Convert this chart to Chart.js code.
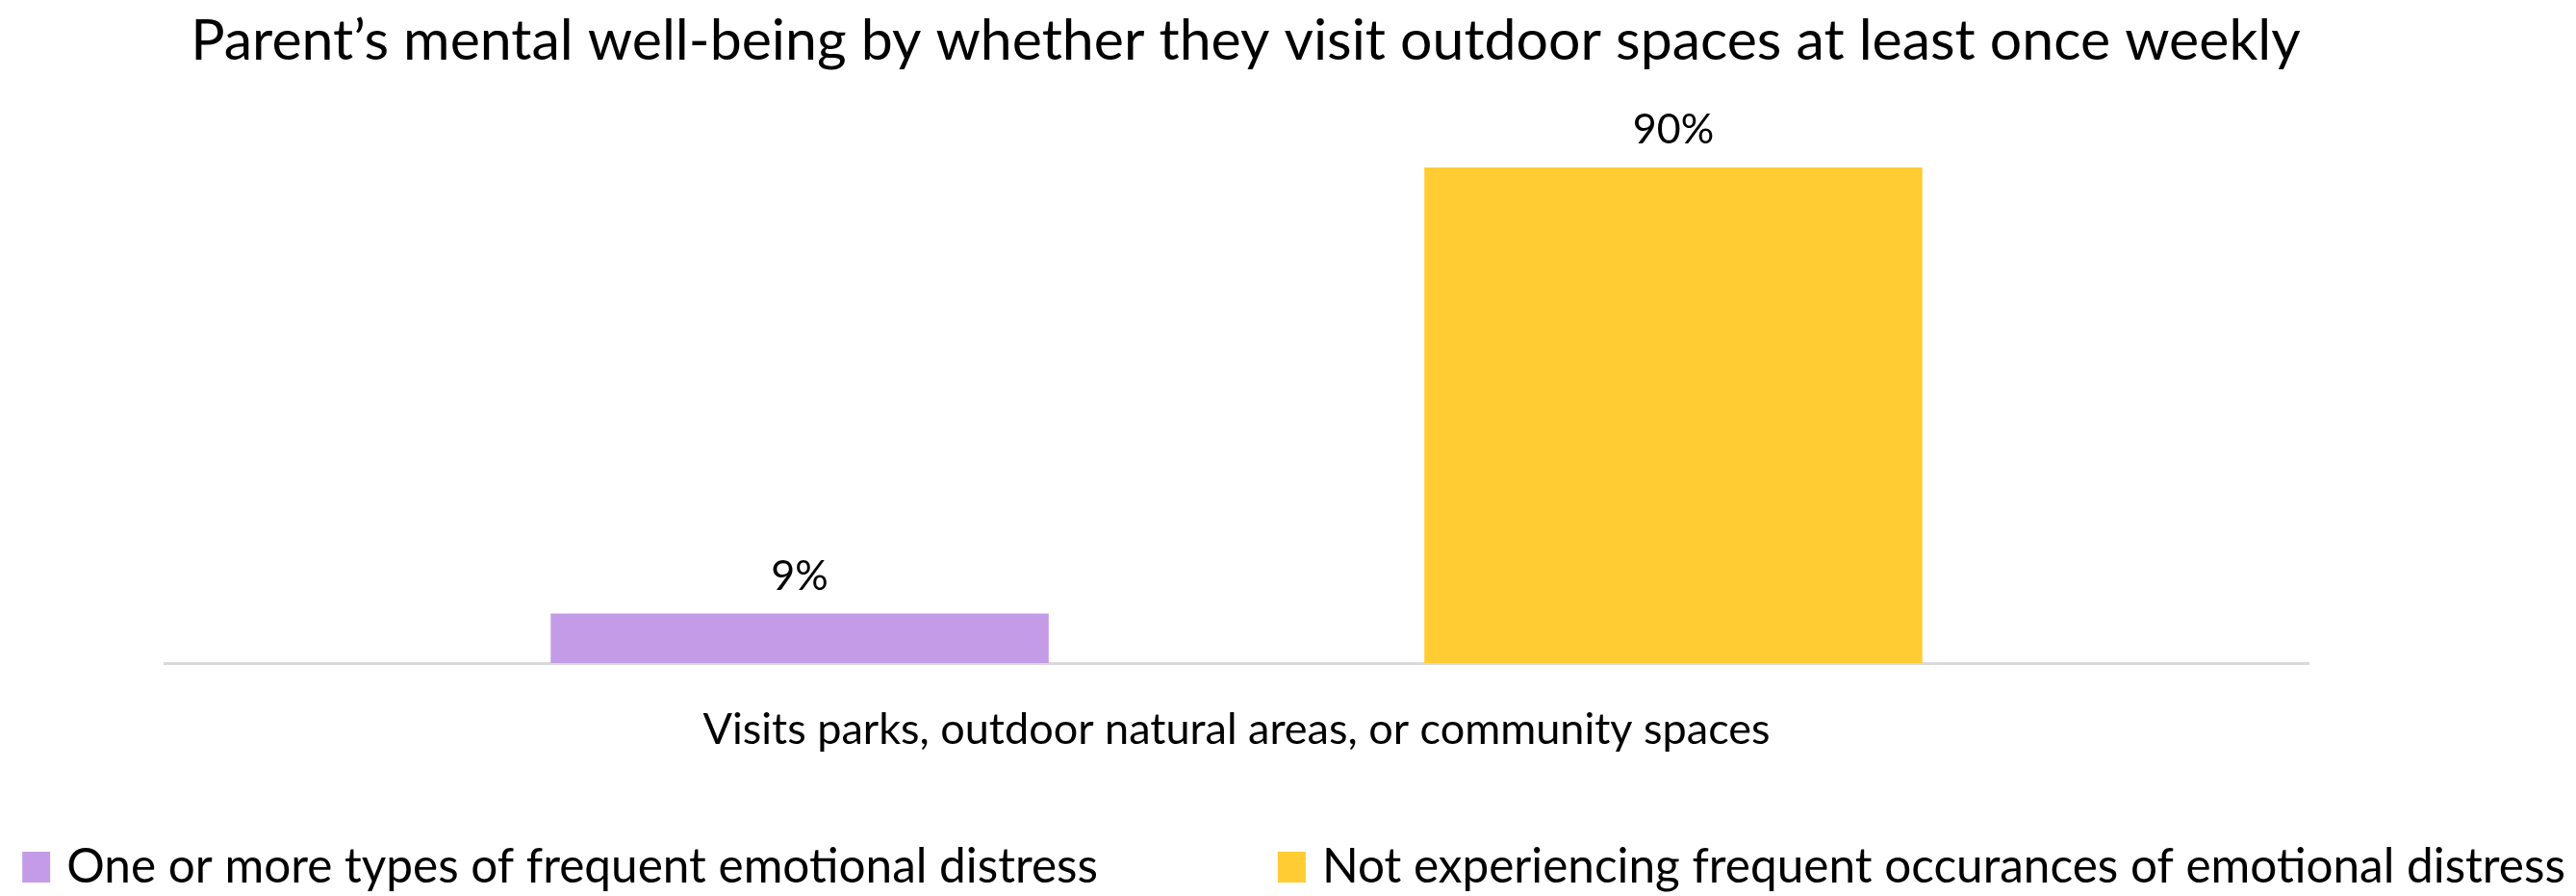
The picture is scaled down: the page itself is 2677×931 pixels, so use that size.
<!DOCTYPE html>
<html>
<head>
<meta charset="utf-8">
<script src="https://cdn.jsdelivr.net/npm/chart.js@4.4.1/dist/chart.umd.min.js"></script>
<style>
    html, body { margin: 0; padding: 0; background: #fff; }
    #wrap { width: 2677px; height: 931px; }
</style>
</head>
<body>
<div id="wrap"><canvas id="myChart"></canvas></div>
<script>
const categories = ['Visits parks, outdoor natural areas, or community spaces'];
const seriesNames = ['One or more types of frequent emotional distress', 'Not experiencing frequent occurances of emotional distress'];
const distressValues = [9];
const noDistressValues = [90];
const seriesColors = ['#c39be6', '#ffcc33'];

const FONT = 'Lato, "Open Sans", sans-serif';

// writes the percentage above every bar
const valueLabels = {
    id: 'valueLabels',
    afterDatasetsDraw(chart) {
        const ctx = chart.ctx;
        ctx.save();
        ctx.font = '43px ' + FONT;
        ctx.fillStyle = '#000';
        ctx.textAlign = 'center';
        ctx.textBaseline = 'alphabetic';
        chart.data.datasets.forEach((ds, i) => {
            chart.getDatasetMeta(i).data.forEach((bar, j) => {
                ctx.fillText(ds.data[j] + '%', bar.x, bar.y - 25);
            });
        });
        ctx.restore();
    }
};

// one-row legend along the bottom edge, wider than the built-in one allows
const wideLegend = {
    id: 'wideLegend',
    afterDraw(chart) {
        const ctx = chart.ctx;
        const boxW = 29, boxH = 32, textGap = 17, itemGap = 187;
        ctx.save();
        ctx.font = '49.5px ' + FONT;
        const items = chart.data.datasets.map(ds => ({
            text: ds.label,
            color: ds.backgroundColor,
            width: boxW + textGap + ctx.measureText(ds.label).width
        }));
        const total = items.reduce((s, it) => s + it.width, 0) + itemGap * (items.length - 1);
        let x = (chart.width - total) / 2 + 6;
        const y = chart.height - 30;
        ctx.textBaseline = 'middle';
        ctx.textAlign = 'left';
        items.forEach(it => {
            ctx.fillStyle = it.color;
            ctx.fillRect(x, y - boxH / 2, boxW, boxH);
            ctx.fillStyle = '#000';
            ctx.fillText(it.text, x + boxW + textGap, y);
            x += it.width + itemGap;
        });
        ctx.restore();
    }
};

function loadChart() {
    const ctx = document.getElementById('myChart');

    new Chart(ctx, {
        type: 'bar',
        data: {
            labels: categories,
            datasets: [{
                label: seriesNames[0],
                data: distressValues,
                backgroundColor: seriesColors[0]
            },
            {
                label: seriesNames[1],
                data: noDistressValues,
                backgroundColor: seriesColors[1]
            }]
        },
        options: {
            responsive: true,
            maintainAspectRatio: false,
            animation: false,
            datasets: {
                bar: {
                    categoryPercentage: 0.815,
                    barPercentage: 0.57
                }
            },
            layout: {
                padding: { left: 0, right: 88, top: 0, bottom: 112 }
            },
            plugins: {
                title: {
                    display: true,
                    text: "Parent\u2019s mental well-being by whether they visit outdoor spaces at least once weekly",
                    color: '#000',
                    font: { family: FONT, size: 59, weight: 'normal', lineHeight: 1.2 },
                    padding: { top: 8, bottom: 38 }
                },
                legend: { display: false },
                tooltip: { enabled: false }
            },
            scales: {
                x: {
                    grid: { display: false },
                    border: { color: '#d9d9d9', width: 3 },
                    ticks: {
                        color: '#000',
                        font: { family: FONT, size: 45 },
                        padding: 34
                    }
                },
                y: {
                    min: 0,
                    max: 100,
                    grid: { display: false },
                    border: { display: false },
                    ticks: { display: false },
                    afterFit(scale) { scale.width = 171; }
                },
                yRight: {
                    position: 'right',
                    grid: { display: false },
                    border: { display: false },
                    ticks: { display: false },
                    afterFit(scale) { scale.width = 190; }
                }
            }
        },
        plugins: [valueLabels, wideLegend]
    });
}

loadChart();
</script>
</body>
</html>
